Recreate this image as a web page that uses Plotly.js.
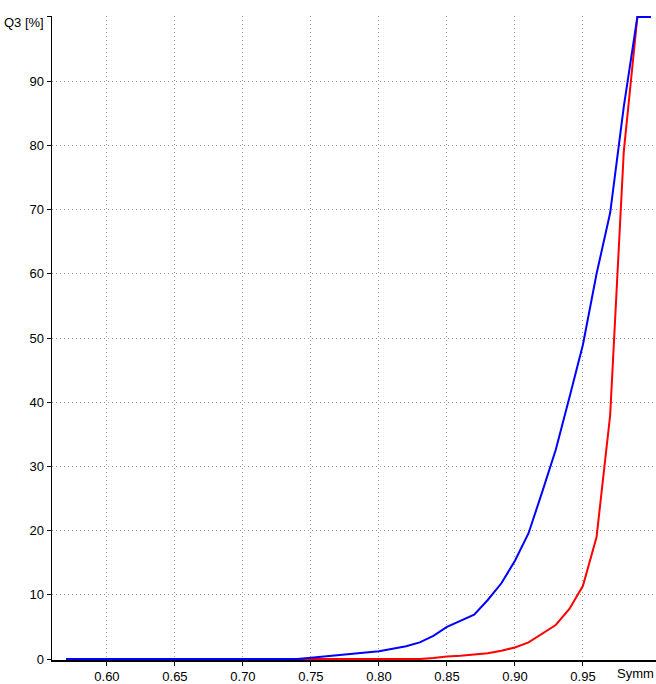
<!DOCTYPE html>
<html>
<head>
<meta charset="utf-8">
<script src="https://cdn.plot.ly/plotly-3.0.1.min.js"></script>
<style>
html,body{margin:0;padding:0;background:#fff;}
#chart{width:656px;height:684px;}
</style>
</head>
<body>
<div id="chart"></div>
<script>
// Symmetry values (x)
const symm = [0.57,0.74,0.75,0.76,0.77,0.78,0.79,0.80,0.81,0.82,0.83,0.84,0.85,0.86,0.87,0.88,0.89,0.90,0.91,0.92,0.93,0.94,0.95,0.96,0.97,0.98,0.99,1.00];
// Q3 [%] blue curve
const q3Blue = [0,0,0.2,0.4,0.6,0.8,1.0,1.2,1.6,2.0,2.6,3.6,5.0,6.0,6.9,9.2,11.8,15.3,19.6,26.0,32.6,40.7,49.0,60.0,69.5,86.0,100,100];
// Q3 [%] red curve
const q3Red = [0,0,0,0,0,0,0,0,0,0,0,0.15,0.4,0.5,0.7,0.9,1.3,1.8,2.6,4.0,5.3,7.8,11.4,19.0,38.0,79.0,100,100];

const xTickVals = [0.60,0.65,0.70,0.75,0.80,0.85,0.90,0.95];
const xTickText = ["0.60","0.65","0.70","0.75","0.80","0.85","0.90","0.95"];
const yTickVals = [0,10,20,30,40,50,60,70,80,90,100];
const yTickText = ["0","10","20","30","40","50","60","70","80","90",""];
const xTitle = "Symm";
const yTitle = "Q3 [%]";

const traces = [
  {x: symm, y: q3Red, type: 'scatter', mode: 'lines', line: {color: '#ff0000', width: 2}, hoverinfo: 'skip'},
  {x: symm, y: q3Blue, type: 'scatter', mode: 'lines', line: {color: '#0000ff', width: 2}, hoverinfo: 'skip'}
];

const font = {family: 'Liberation Sans, Arial, sans-serif', size: 13, color: '#000'};

const layout = {
  width: 656, height: 684,
  margin: {l: 52, r: 0, t: 16, b: 24, pad: 0},
  paper_bgcolor: '#fff', plot_bgcolor: '#fff',
  showlegend: false,
  font: font,
  xaxis: {
    range: [0.5596, 1.0037],
    tickmode: 'array', tickvals: xTickVals, ticktext: xTickText,
    ticks: 'outside', ticklen: 4, tickcolor: '#000',
    showline: true, linecolor: '#000', linewidth: 1.5,
    showgrid: true, gridcolor: '#9a9a9a', griddash: '1px,3px', gridwidth: 1,
    zeroline: false, tickfont: font
  },
  yaxis: {
    range: [-0.15, 100.15],
    tickmode: 'array', tickvals: yTickVals, ticktext: yTickText,
    ticks: 'outside', ticklen: 4, tickcolor: '#000',
    showline: true, linecolor: '#000', linewidth: 1.5,
    showgrid: true, gridcolor: '#9a9a9a', griddash: '1px,3px', gridwidth: 1,
    zeroline: false, tickfont: font
  },
  annotations: [
    {text: xTitle, xref: 'paper', yref: 'paper', x: 1, y: 0, xanchor: 'right', yanchor: 'middle', yshift: -13, showarrow: false, font: font},
    {text: yTitle, xref: 'paper', yref: 'paper', x: 0, y: 1, xanchor: 'right', yanchor: 'middle', xshift: -6, yshift: -6, showarrow: false, font: font}
  ]
};

Plotly.newPlot('chart', traces, layout, {displayModeBar: false, staticPlot: true});
</script>
</body>
</html>
